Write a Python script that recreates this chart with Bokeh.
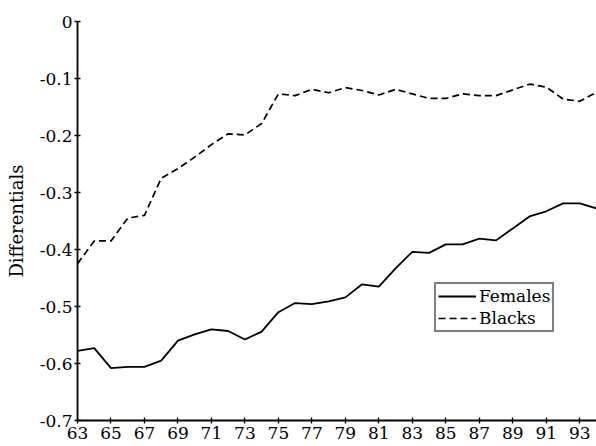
from bokeh.plotting import figure
from bokeh.models import Range1d, FixedTicker, Legend, LegendItem
from bokeh.embed import file_html
from bokeh.resources import INLINE

years = list(range(63, 95))
females = [-0.578, -0.573, -0.608, -0.606, -0.606, -0.595, -0.560, -0.549,
           -0.540, -0.543, -0.558, -0.544, -0.510, -0.494, -0.496, -0.491,
           -0.484, -0.461, -0.465, -0.433, -0.404, -0.406, -0.391, -0.391,
           -0.381, -0.384, -0.363, -0.342, -0.333, -0.319, -0.319, -0.328]
blacks = [-0.425, -0.385, -0.385, -0.345, -0.340, -0.275, -0.258, -0.238,
          -0.216, -0.197, -0.199, -0.179, -0.127, -0.130, -0.119, -0.125,
          -0.116, -0.121, -0.129, -0.119, -0.127, -0.135, -0.135, -0.127,
          -0.130, -0.130, -0.120, -0.110, -0.115, -0.136, -0.140, -0.124]

x_ticks = list(range(63, 94, 2))
x_tick_labels = [str(t) for t in x_ticks]
y_ticks = [0, -0.1, -0.2, -0.3, -0.4, -0.5, -0.6, -0.7]
y_tick_labels = ["0", "-0.1", "-0.2", "-0.3", "-0.4", "-0.5", "-0.6", "-0.7"]

FONT = "DejaVu Serif"

p = figure(width=596, height=446, output_backend="svg", toolbar_location=None,
           x_range=Range1d(63, 94), y_range=Range1d(-0.7, 0),
           min_border_left=77, min_border_right=0, min_border_top=21,
           min_border_bottom=26)
p.outline_line_color = None
p.xgrid.visible = False
p.ygrid.visible = False
p.background_fill_color = "white"
p.border_fill_color = "white"

r_f = p.line(years, females, line_color="black", line_width=1.8)
r_b = p.line(years, blacks, line_color="black", line_width=1.7, line_dash="7 4")

for ax in (p.xaxis[0], p.yaxis[0]):
    ax.axis_line_color = "black"
    ax.axis_line_width = 1.8
    ax.major_tick_line_color = "black"
    ax.major_tick_line_width = 1.3
    ax.major_tick_in = 3
    ax.major_tick_out = 3
    ax.minor_tick_in = 0
    ax.minor_tick_out = 0
    ax.major_label_text_font = FONT
    ax.major_label_text_font_size = "17px"
    ax.major_label_text_color = "black"

p.xaxis.ticker = FixedTicker(ticks=x_ticks, minor_ticks=[])
p.xaxis.major_label_overrides = {t: s for t, s in zip(x_ticks, x_tick_labels)}
p.xaxis.major_label_standoff = 3

p.yaxis.ticker = FixedTicker(ticks=y_ticks, minor_ticks=[])
p.yaxis.major_label_overrides = {t: s for t, s in zip(y_ticks, y_tick_labels)}
p.yaxis.major_label_standoff = 2
p.yaxis.axis_label = "Differentials"
p.yaxis.axis_label_text_font = FONT
p.yaxis.axis_label_text_font_size = "18px"
p.yaxis.axis_label_text_font_style = "normal"
p.yaxis.axis_label_text_color = "black"
p.yaxis.axis_label_standoff = 10

legend = Legend(items=[LegendItem(label="Females", renderers=[r_f]),
                       LegendItem(label="Blacks", renderers=[r_b])],
                location=(357, 88), padding=2, spacing=2, margin=0,
                glyph_width=38, glyph_height=20, label_height=20,
                label_standoff=3,
                label_text_font=FONT, label_text_font_size="17px",
                label_text_color="black",
                border_line_color="black", border_line_width=2,
                background_fill_color="white", background_fill_alpha=1.0)
p.add_layout(legend, "center")

open("out.html", "w").write(file_html(p, INLINE))
